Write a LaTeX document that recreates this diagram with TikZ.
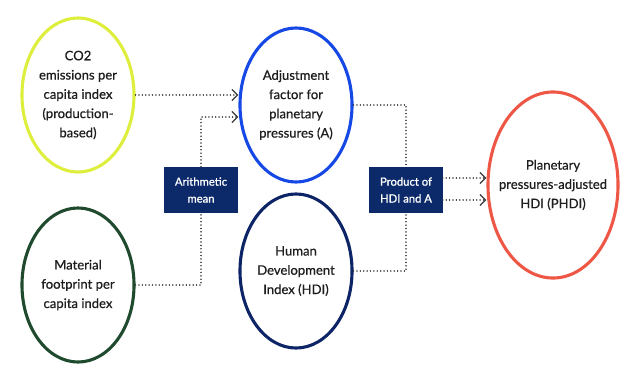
\documentclass[tikz,border=0pt]{standalone}
\usepackage{fontspec}
\setmainfont{Lato}[FakeBold=0.7]
\newfontfamily\boxfont{Lato}[FakeBold=1.1]
\usetikzlibrary{arrows.meta,shapes.geometric}
\definecolor{plime}{HTML}{DDEE3C}
\definecolor{pgreen}{HTML}{1F4A2E}
\definecolor{pblue}{HTML}{1548E4}
\definecolor{pnavy}{HTML}{0D2466}
\definecolor{pbox}{HTML}{0C2A6A}
\definecolor{pred}{HTML}{EE5646}
\definecolor{ptext}{HTML}{1E1E1E}
\definecolor{pdot}{HTML}{3A3A3A}

\begin{document}
\begin{tikzpicture}[
  x=0.025cm,y=-0.025cm,
  font=\fontsize{9.3}{13.7}\selectfont,
  idx/.style={ellipse,draw,line width=2.2pt,minimum width=2.8cm,minimum height=3.85cm,
              inner sep=0pt,align=center,text=ptext},
  op/.style={fill=pbox,text=white,minimum width=1.825cm,minimum height=1.15cm,
             inner sep=0pt,align=center,font=\boxfont\fontsize{8}{12}\selectfont},
  dl/.style={draw=pdot,line width=1.1pt,dash pattern=on 0.01pt off 2.4pt,line cap=round},
  ar/.style={dl,-{Straight Barb[length=1.4mm,width=2.8mm,line width=0.9pt]}}]
\useasboundingbox (0,0) rectangle (629,376);

% ---- the indices -----------------------------------------------------------
\node[idx,draw=plime]  (co2) at (78,95)
  {CO2\\emissions per\\capita index\\(production-\\based)};
\node[idx,draw=pgreen] (mat) at (78,285) {Material\\footprint per\\capita index};
\node[idx,draw=pblue]  (adj) at (296,105)
  {Adjustment\\factor for\\planetary\\pressures (A)};
\node[idx,draw=pnavy]  (hdi) at (296,271) {Human\\Development\\Index (HDI)};
\node[idx,draw=pred,minimum width=3.25cm,minimum height=4.65cm,inner xsep=-8pt]
  (phdi) at (553,185) {Planetary\\pressures-adjusted\\HDI (PHDI)};

% ---- the operations --------------------------------------------------------
\node[op] (mean) at (201,190) {Arithmetic\\mean};
\node[op] (prod) at (406,190) {Product of\\HDI and A};

% ---- connectors ------------------------------------------------------------
\draw[ar] (co2.east) -- (co2.east -| adj.west);
\draw[ar] (mean.north) |- ([yshift=-0.3cm]adj.west);
\draw[dl] (mat.east) -| (mean.south);
\draw[dl] (adj.east) -| (prod.north);
\draw[dl] (hdi.east) -| (prod.south);
\draw[ar] ([yshift=0.3cm]prod.east) -- ([yshift=0.3cm]prod.east -| phdi.west);
\draw[ar] ([yshift=-0.25cm]prod.east) -- ([yshift=-0.25cm]prod.east -| phdi.west);
\end{tikzpicture}
\end{document}
